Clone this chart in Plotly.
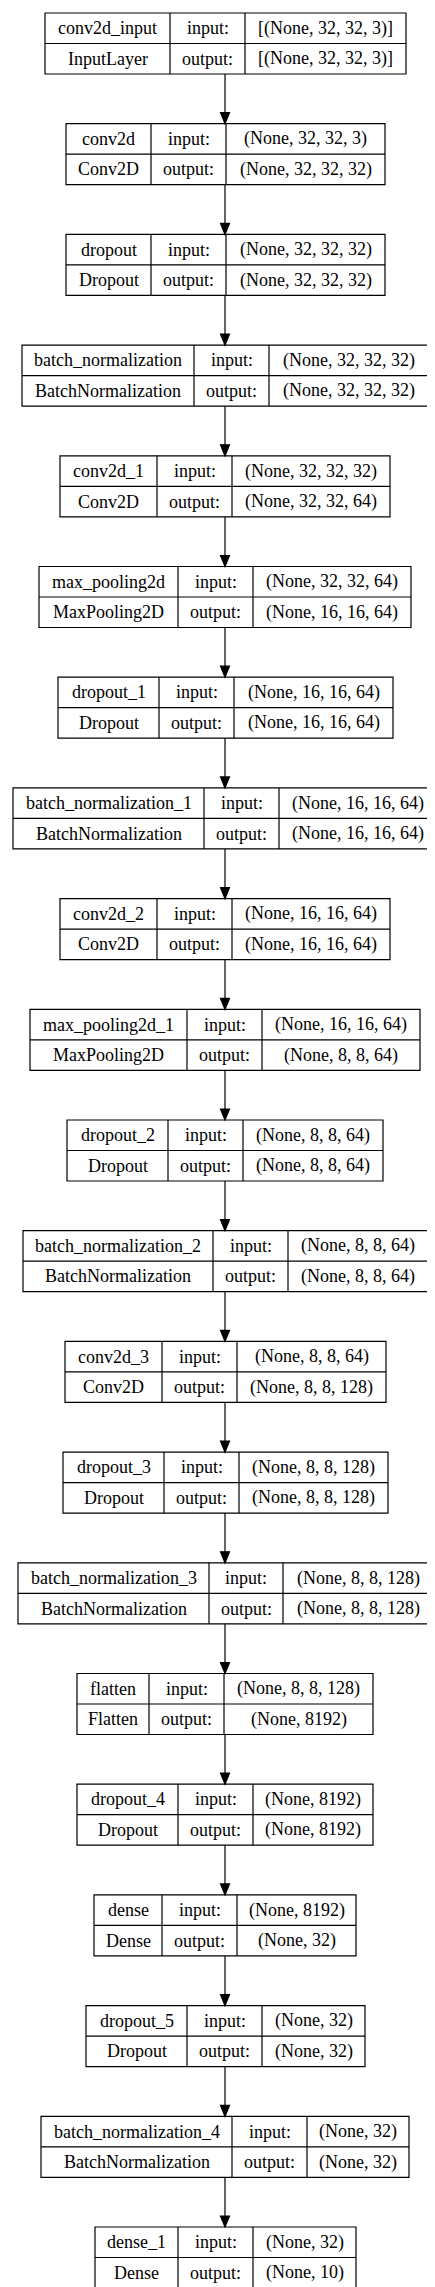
import plotly.graph_objects as go

layer_names = ["conv2d_input", "conv2d", "dropout", "batch_normalization", "conv2d_1",
               "max_pooling2d", "dropout_1", "batch_normalization_1", "conv2d_2",
               "max_pooling2d_1", "dropout_2", "batch_normalization_2", "conv2d_3",
               "dropout_3", "batch_normalization_3", "flatten", "dropout_4", "dense",
               "dropout_5", "batch_normalization_4", "dense_1"]
layer_types = ["InputLayer", "Conv2D", "Dropout", "BatchNormalization", "Conv2D",
               "MaxPooling2D", "Dropout", "BatchNormalization", "Conv2D",
               "MaxPooling2D", "Dropout", "BatchNormalization", "Conv2D",
               "Dropout", "BatchNormalization", "Flatten", "Dropout", "Dense",
               "Dropout", "BatchNormalization", "Dense"]
input_shapes = ["[(None, 32, 32, 3)]", "(None, 32, 32, 3)", "(None, 32, 32, 32)", "(None, 32, 32, 32)",
                "(None, 32, 32, 32)", "(None, 32, 32, 64)", "(None, 16, 16, 64)", "(None, 16, 16, 64)",
                "(None, 16, 16, 64)", "(None, 16, 16, 64)", "(None, 8, 8, 64)", "(None, 8, 8, 64)",
                "(None, 8, 8, 64)", "(None, 8, 8, 128)", "(None, 8, 8, 128)", "(None, 8, 8, 128)",
                "(None, 8192)", "(None, 8192)", "(None, 32)", "(None, 32)", "(None, 32)"]
output_shapes = ["[(None, 32, 32, 3)]", "(None, 32, 32, 32)", "(None, 32, 32, 32)", "(None, 32, 32, 32)",
                 "(None, 32, 32, 64)", "(None, 16, 16, 64)", "(None, 16, 16, 64)", "(None, 16, 16, 64)",
                 "(None, 16, 16, 64)", "(None, 8, 8, 64)", "(None, 8, 8, 64)", "(None, 8, 8, 64)",
                 "(None, 8, 8, 128)", "(None, 8, 8, 128)", "(None, 8, 8, 128)", "(None, 8192)",
                 "(None, 8192)", "(None, 32)", "(None, 32)", "(None, 32)", "(None, 10)"]

# layout: column edges per box (pixels)
col_edges = [(37,162,237,398),(58,143,218,377),(58,143,218,377),(14,186,261,420),(52,149,224,382),
             (31,170,245,403),(50,151,226,385),(5,196,271,429),(52,149,224,382),(22,179,254,412),
             (59,160,235,375),(15,205,280,420),(57,154,229,378),(55,156,231,380),(10,201,275,425),
             (69,141,216,365),(69,170,245,365),(86,154,229,348),(78,179,254,357),(33,224,299,401),
             (87,170,245,348)]
TOP0, STEP, BOXH, CX = 5, 110.7, 61, 217

W, H = 435, 2287
FONT = dict(family="Liberation Serif", size=18, color="black")
shapes, annots = [], []
line = dict(color="black", width=1.2)
for i, (a, b, c, d) in enumerate(col_edges):
    t = TOP0 + i * STEP
    m = t + BOXH / 2
    bt = t + BOXH
    shapes.append(dict(type="rect", x0=a, x1=d, y0=t, y1=bt, line=line))
    for x in (b, c):
        shapes.append(dict(type="line", x0=x, x1=x, y0=t, y1=bt, line=line))
    shapes.append(dict(type="line", x0=a, x1=d, y0=m, y1=m, line=line))
    cells = [(layer_names[i], (a+b)/2, (t+m)/2), (layer_types[i], (a+b)/2, (m+bt)/2),
             ("input:", (b+c)/2, (t+m)/2), ("output:", (b+c)/2, (m+bt)/2),
             (input_shapes[i], (c+d)/2, (t+m)/2), (output_shapes[i], (c+d)/2, (m+bt)/2)]
    for txt, x, y in cells:
        annots.append(dict(text=txt, x=x, y=y, xref="x", yref="y", showarrow=False,
                           font=FONT, xanchor="center", yanchor="middle"))
    if i < len(col_edges) - 1:
        nt = TOP0 + (i + 1) * STEP
        shapes.append(dict(type="line", x0=CX, x1=CX, y0=bt, y1=nt - 10, line=line))
        shapes.append(dict(type="path", path=f"M {CX-4.5},{nt-11} L {CX+4.5},{nt-11} L {CX},{nt} Z",
                           fillcolor="black", line=line))

fig = go.Figure()
fig.update_layout(width=W, height=H, margin=dict(l=0, r=0, t=0, b=0),
                  paper_bgcolor="white", plot_bgcolor="white",
                  xaxis=dict(range=[0, W], visible=False, fixedrange=True),
                  yaxis=dict(range=[H, 0], visible=False, fixedrange=True),
                  shapes=shapes, annotations=annots, showlegend=False)
fig.write_html("out.html", config={"displayModeBar": False})
